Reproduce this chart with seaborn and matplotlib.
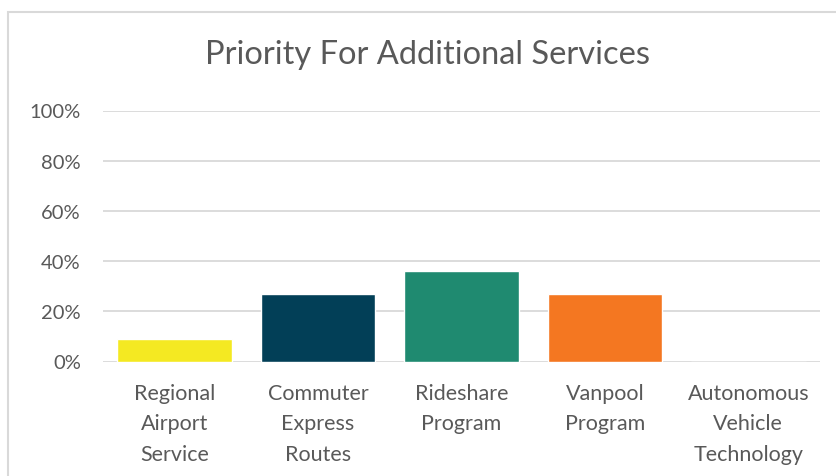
import matplotlib
matplotlib.use("Agg")
import matplotlib.pyplot as plt
import seaborn as sns
import pandas as pd
from matplotlib.patches import Rectangle
from matplotlib.ticker import PercentFormatter

# Survey results: share of respondents naming each service as a priority
categories = [
    "Regional\nAirport\nService",
    "Commuter\nExpress\nRoutes",
    "Rideshare\nProgram",
    "Vanpool\nProgram",
    "Autonomous\nVehicle\nTechnology",
]
shares = [0.09, 0.27, 0.36, 0.27, 0.0]
bar_colors = ["#F4E922", "#023F57", "#1F8A70", "#F47721", "#7F7F7F"]
y_ticks = [0.0, 0.2, 0.4, 0.6, 0.8, 1.0]

sns.set_theme(style="white")
plt.rcParams["font.family"] = ["Lato", "DejaVu Sans"]

W, H, DPI = 837, 477, 100
fig = plt.figure(figsize=(W / DPI, H / DPI), dpi=DPI)
fig.patch.set_facecolor("white")

left, right = 103 / W, 820 / W
bottom, top = 1 - 362.5 / H, 1 - 111.5 / H
ax = fig.add_axes([left, bottom, right - left, top - bottom])

df = pd.DataFrame({"category": categories, "share": shares})
sns.barplot(
    data=df, x="category", y="share", hue="category",
    palette=bar_colors, width=0.8, legend=False, saturation=1, ax=ax,
)

ax.set_ylim(0, 1)
ax.set_xlim(-0.5, len(categories) - 0.5)
ax.set_yticks(y_ticks)
ax.yaxis.set_major_formatter(PercentFormatter(1.0, decimals=0))
ax.grid(axis="y", color="#D9D9D9", linewidth=1.3)
ax.set_axisbelow(True)
ax.set_xlabel("")
ax.set_ylabel("")
for side in ["top", "right", "left", "bottom"]:
    ax.spines[side].set_visible(False)

ax.tick_params(axis="y", length=0, pad=16, labelsize=14.5, labelcolor="#595959")
ax.tick_params(axis="x", length=0, pad=15.5, labelsize=15.5, labelcolor="#595959")
for lbl in ax.get_xticklabels():
    lbl.set_linespacing(1.64)

fig.text(427.5 / W, 1 - 64 / H, "Priority For Additional Services",
         ha="center", va="baseline", fontsize=23.5, color="#595959")

# chart area border
fig.patches.append(Rectangle((8.5 / W, -0.1), 1.2, (1 - 12.5 / H) + 0.1,
                             transform=fig.transFigure, fill=False,
                             edgecolor="#D9D9D9", linewidth=1.5))

fig.savefig("out.png", dpi=DPI)
